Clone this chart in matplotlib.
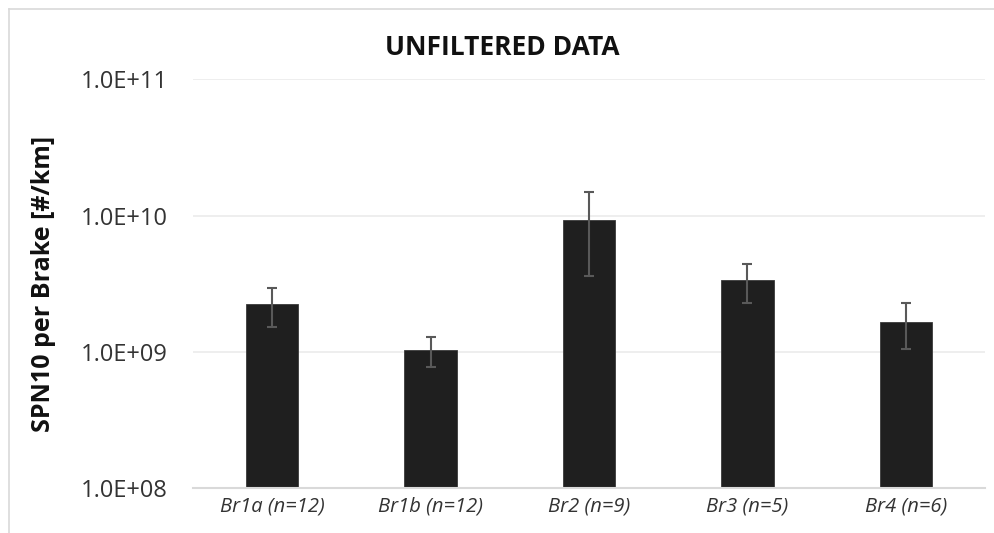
import numpy as np
import matplotlib
matplotlib.use('Agg')
from matplotlib import pyplot as plt
from matplotlib.lines import Line2D

plt.rcParams['font.family'] = ['Open Sans', 'DejaVu Sans']

# data
labels = ['Br1a (n=12)', 'Br1b (n=12)', 'Br2 (n=9)', 'Br3 (n=5)', 'Br4 (n=6)']
means = np.array([2.25e9, 1.03e9, 9.35e9, 3.36e9, 1.67e9])
err_top = np.array([2.93e9, 1.29e9, 1.50e10, 4.40e9, 2.28e9])
err_bot = np.array([1.53e9, 7.73e8, 3.61e9, 2.28e9, 1.05e9])
yticks = [1e8, 1e9, 1e10, 1e11]
ytick_labels = ['1.0E+08', '1.0E+09', '1.0E+10', '1.0E+11']

fig = plt.figure(figsize=(9.94, 5.33), dpi=100)
ax = fig.add_axes([0.194, 0.0839, 0.797, 0.7672])

x = np.arange(len(labels))
yerr = np.vstack([means - err_bot, err_top - means])
ax.bar(x, means, width=0.33, color='#1f1f1f', edgecolor='#3a3a3a', linewidth=0.6, zorder=2)
ax.errorbar(x, means, yerr=yerr, fmt='none', ecolor='#595959', elinewidth=1.5,
            capsize=3.6, capthick=1.5, zorder=3)

ax.set_yscale('log')
ax.set_ylim(1e8, 1e11)
ax.set_xlim(-0.5, len(labels) - 0.5)
ax.set_yticks(yticks)
ax.set_yticklabels(ytick_labels, fontsize=17, color='#333333')
ax.minorticks_off()
ax.set_xticks(x)
ax.set_xticklabels(labels, fontsize=14.5, style='italic', color='#333333')
ax.tick_params(axis='both', length=0)
ax.tick_params(axis='y', pad=18)
ax.tick_params(axis='x', pad=6)

ax.grid(axis='y', color='#ebebeb', linewidth=1.2, zorder=0)
ax.set_axisbelow(True)
for s in ['top', 'right', 'left']:
    ax.spines[s].set_visible(False)
ax.spines['bottom'].set_color('#d9d9d9')
ax.spines['bottom'].set_linewidth(1.5)

ax.set_ylabel('SPN10 per Brake [#/km]', fontsize=18, fontweight='bold', color='#111111', labelpad=18)
fig.text(0.505, 0.910, 'UNFILTERED DATA', ha='center', va='center', fontsize=19,
         fontweight='bold', color='#111111')

# chart frame (cropped at right and bottom)
fig.add_artist(Line2D([9/994, 1.0], [1 - 9/533, 1 - 9/533], color='#d9d9d9', linewidth=1.2))
fig.add_artist(Line2D([9/994, 9/994], [0.0, 1 - 9/533], color='#d9d9d9', linewidth=1.2))

plt.savefig('out.png', dpi=100)
